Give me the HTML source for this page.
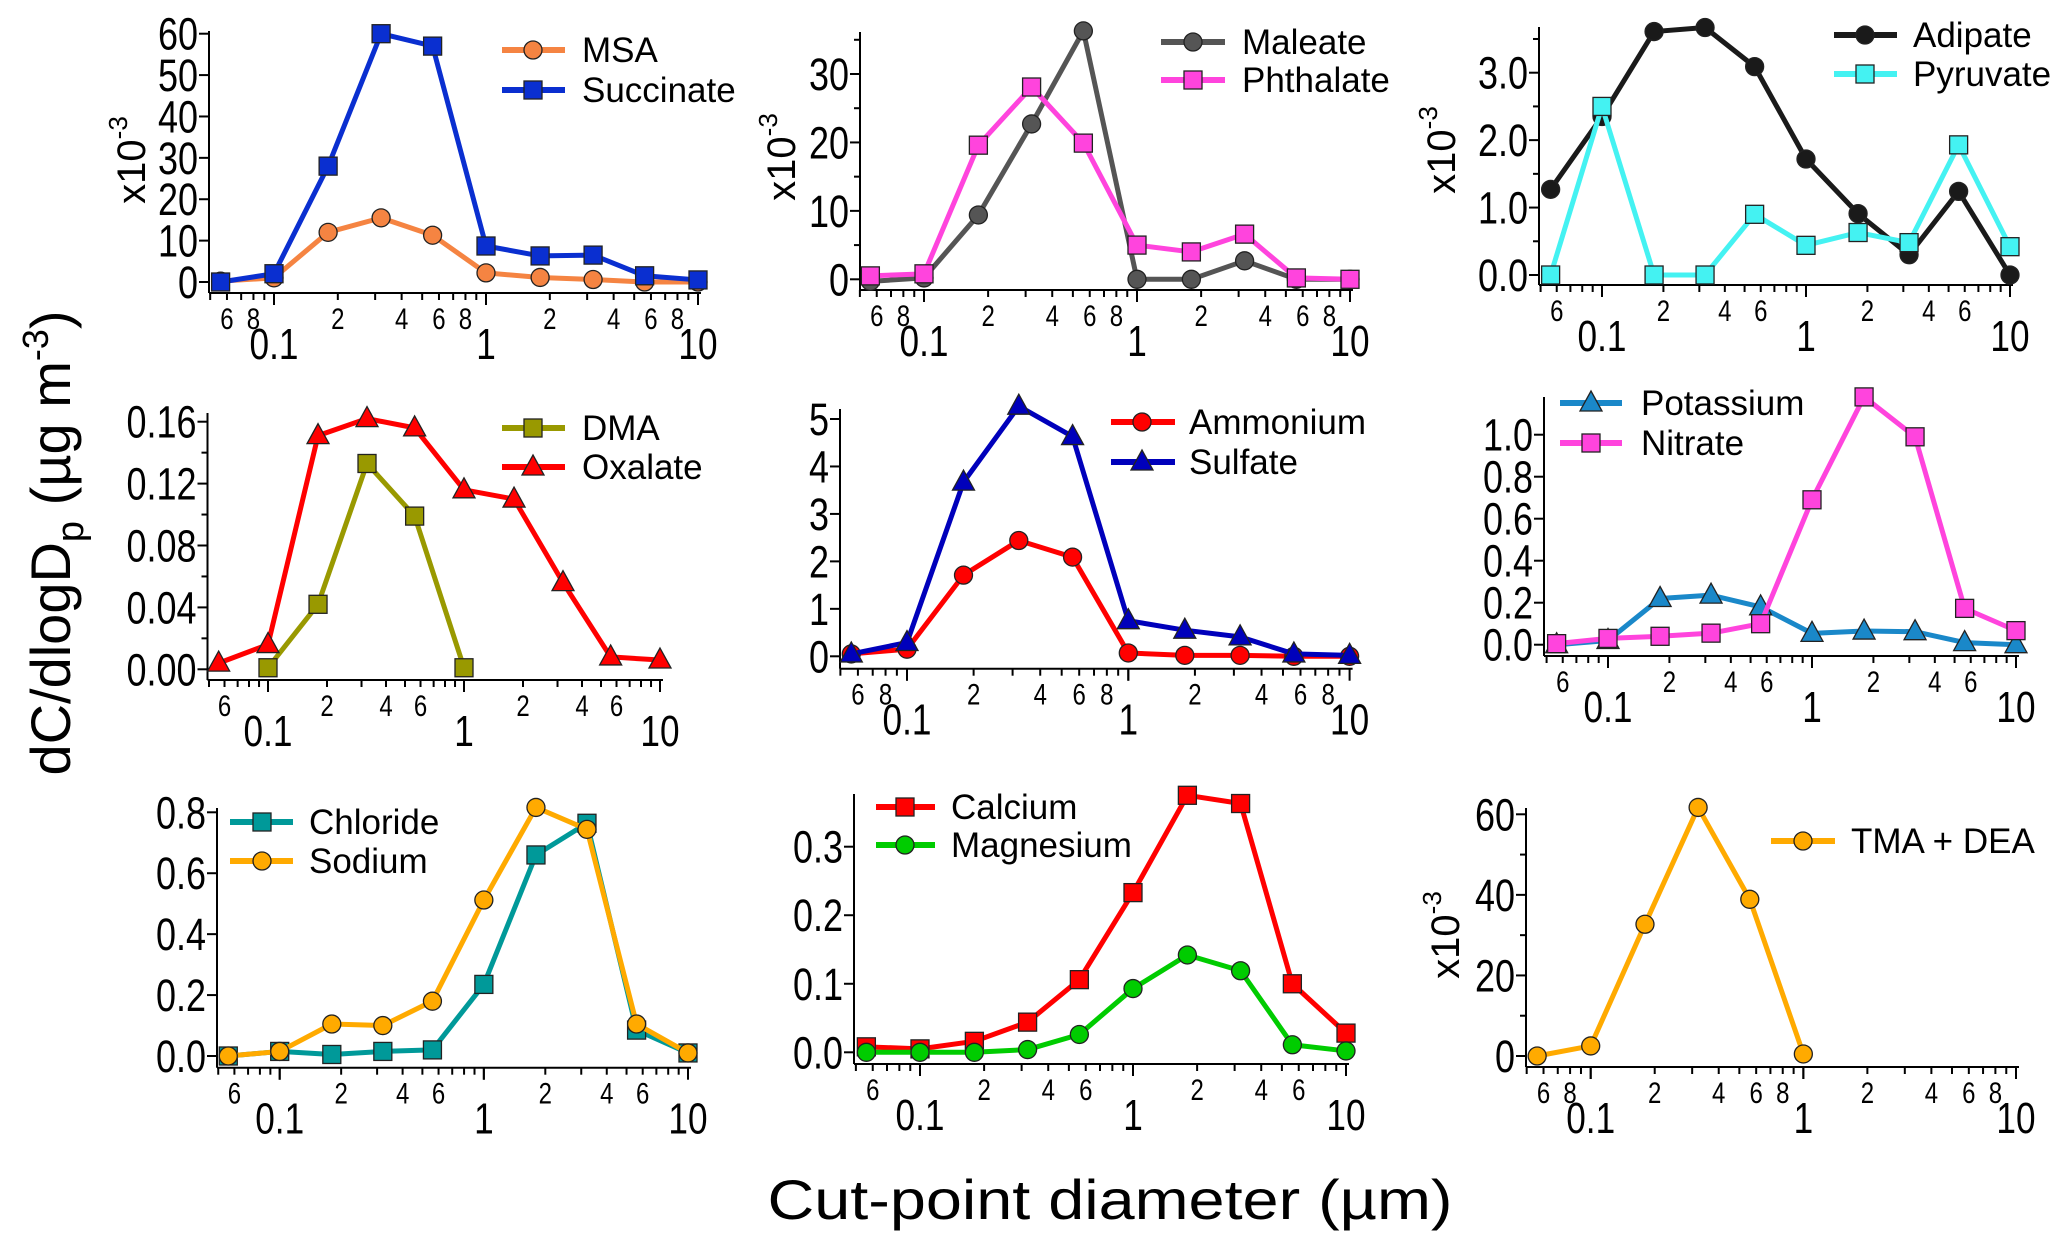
<!DOCTYPE html>
<html><head><meta charset="utf-8"><style>
html,body{margin:0;padding:0;background:#fff}
svg{display:block;font-family:"Liberation Sans",Arial,sans-serif}
</style></head><body>
<svg id="fig" width="2067" height="1244" viewBox="0 0 2067 1244" xmlns="http://www.w3.org/2000/svg">
<text x="1110" y="1219" font-size="56" text-anchor="middle" textLength="685" lengthAdjust="spacingAndGlyphs">Cut-point diameter (µm)</text>
<text transform="translate(70,543) rotate(-90)" font-size="56" text-anchor="middle">dC/dlogD<tspan font-size="38" dy="13">p</tspan><tspan dy="-13"> (µg m</tspan><tspan font-size="36" dy="-22">-3</tspan><tspan dy="22">)</tspan></text>
</svg>
<script>
// Shared cut-point diameters (µm)
const diameters = [0.056, 0.1, 0.18, 0.32, 0.56, 1.0, 1.8, 3.2, 5.6, 10];
// Series values (dC/dlogDp)
const msa = [0.2, 1, 12, 15.5, 11.3, 2.2, 1.1, 0.6, 0, 0];
const succinate = [0, 2, 28, 60, 57, 8.7, 6.3, 6.5, 1.5, 0.5];
const maleate = [-0.3, 0.2, 9.4, 22.7, 36.3, 0, 0, 2.7, 0, 0];
const phthalate = [0.5, 0.8, 19.6, 28.1, 19.9, 5, 4, 6.6, 0.2, 0];
const adipate = [1.27, 2.35, 3.61, 3.67, 3.09, 1.72, 0.91, 0.3, 1.24, 0];
const pyruvate = [0, 2.5, 0, 0, 0.9, 0.44, 0.63, 0.48, 1.93, 0.42];
const dma = [null, 0.001, 0.042, 0.133, 0.099, 0.001, null, null, null, null];
const oxalate = [0.004, 0.016, 0.151, 0.162, 0.156, 0.116, 0.110, 0.056, 0.008, 0.006];
const ammonium = [0.05, 0.15, 1.71, 2.44, 2.09, 0.07, 0.02, 0.02, 0, 0];
const sulfate = [0.05, 0.29, 3.67, 5.27, 4.63, 0.75, 0.55, 0.41, 0.05, 0.02];
const potassium = [0, 0.02, 0.22, 0.236, 0.18, 0.054, 0.065, 0.062, 0.01, 0];
const nitrate = [0.005, 0.03, 0.04, 0.055, 0.1, 0.69, 1.18, 0.99, 0.173, 0.067];
const chloride = [0, 0.015, 0.005, 0.015, 0.02, 0.235, 0.66, 0.764, 0.085, 0.01];
const sodium = [0, 0.015, 0.105, 0.1, 0.18, 0.512, 0.816, 0.744, 0.105, 0.01];
const calcium = [0.008, 0.005, 0.016, 0.044, 0.106, 0.233, 0.375, 0.363, 0.1, 0.028];
const magnesium = [0, 0, 0, 0.004, 0.026, 0.093, 0.142, 0.119, 0.011, 0.002];
const tmaDea = [0, 2.5, 32.7, 61.7, 38.9, 0.5, null, null, null, null];
// Y tick labels per panel
const ticks1 = ["0","10","20","30","40","50","60"];
const ticks2 = ["0","10","20","30"];
const ticks3 = ["0.0","1.0","2.0","3.0"];
const ticks4 = ["0.00","0.04","0.08","0.12","0.16"];
const ticks5 = ["0","1","2","3","4","5"];
const ticks6 = ["0.0","0.2","0.4","0.6","0.8","1.0"];
const ticks7 = ["0.0","0.2","0.4","0.6","0.8"];
const ticks8 = ["0.0","0.1","0.2","0.3"];
const ticks9 = ["0","20","40","60"];

const NS = "http://www.w3.org/2000/svg";
const svg = document.getElementById("fig");
function mk(tag, attrs, parent) {
  const e = document.createElementNS(NS, tag);
  for (const k in attrs) e.setAttribute(k, attrs[k]);
  (parent || svg).appendChild(e);
  return e;
}
function ntext(parent, x, y, size, anchor, str) {
  const t = mk("text", {transform:"translate(" + x + "," + y + ") scale(0.8,1)", "font-size":size, "text-anchor":anchor}, parent);
  t.textContent = str;
  return t;
}

const panels = [
 {id:"p1", left:209, px01:274, px10:698, ax:293, y0:282, yref:60, ypix:33.7, top:31, ticks:ticks1, step:10, minor:0, full:true, mult:true, mlx:131, mly:160,
  series:[{name:"MSA",data:msa,color:"#F58442",m:"circle"},{name:"Succinate",data:succinate,color:"#0A2FD0",m:"square"}],
  leg:{x1:502,x2:565,mx:533,tx:582,ys:[50,90]}},
 {id:"p2", left:860, px01:924, px10:1350, ax:290, y0:279.3, yref:30, ypix:74, top:32, ticks:ticks2, step:10, minor:5, minorMax:35, full:true, mult:true, mlx:781, mly:157,
  series:[{name:"Maleate",data:maleate,color:"#555555",m:"circle"},{name:"Phthalate",data:phthalate,color:"#FF44DD",m:"square"}],
  leg:{x1:1161,x2:1225,mx:1193,tx:1242,ys:[42,80]}},
 {id:"p3", left:1539, px01:1602, px10:2010, ax:285, y0:275, yref:3, ypix:72.7, top:27, ticks:ticks3, step:1, minor:0.5, minorMax:3.5, full:false, mult:true, mlx:1441, mly:150,
  series:[{name:"Adipate",data:adipate,color:"#1A1A1A",m:"circle"},{name:"Pyruvate",data:pyruvate,color:"#44F2F2",m:"square"}],
  leg:{x1:1834,x2:1897,mx:1865,tx:1913,ys:[35,74]}},
 {id:"p4", left:207.5, px01:268, px10:660, ax:680, y0:669.3, yref:0.16, ypix:421.7, top:413, ticks:ticks4, step:0.04, minor:0.02, minorMax:0.16, full:false,
  series:[{name:"DMA",data:dma,color:"#999900",m:"square"},{name:"Oxalate",data:oxalate,color:"#FF0000",m:"triangle"}],
  leg:{x1:502,x2:565,mx:533,tx:582,ys:[428,467]}},
 {id:"p5", left:840, px01:907, px10:1349.6, ax:668.7, y0:656.3, yref:5, ypix:419, top:409, ticks:ticks5, step:1, minor:0, full:true,
  series:[{name:"Ammonium",data:ammonium,color:"#FF0000",m:"circle"},{name:"Sulfate",data:sulfate,color:"#0000BB",m:"triangle"}],
  leg:{x1:1111,x2:1175,mx:1142,tx:1189,ys:[422,462]}},
 {id:"p6", left:1544, px01:1608, px10:2016, ax:656, y0:644.7, yref:1.0, ypix:434.7, top:397, ticks:ticks6, step:0.2, minor:0, full:false,
  series:[{name:"Potassium",data:potassium,color:"#1A88C9",m:"triangle"},{name:"Nitrate",data:nitrate,color:"#FF44DD",m:"square"}],
  leg:{x1:1560,x2:1622,mx:1591,tx:1641,ys:[403,443]}},
 {id:"p7", left:217, px01:279.7, px10:688, ax:1067.7, y0:1056, yref:0.8, ypix:812.3, top:808, ticks:ticks7, step:0.2, minor:0, full:false,
  series:[{name:"Chloride",data:chloride,color:"#009999",m:"square"},{name:"Sodium",data:sodium,color:"#FFAA00",m:"circle"}],
  leg:{x1:230,x2:293,mx:262,tx:309,ys:[822,861]}},
 {id:"p8", left:854, px01:920, px10:1346, ax:1064, y0:1052.3, yref:0.3, ypix:846.7, top:794, ticks:ticks8, step:0.1, minor:0, full:false,
  series:[{name:"Calcium",data:calcium,color:"#FF0000",m:"square"},{name:"Magnesium",data:magnesium,color:"#00CC00",m:"circle"}],
  leg:{x1:876,x2:935,mx:905,tx:951,ys:[807,845]}},
 {id:"p9", left:1526, px01:1590.7, px10:2016, ax:1067, y0:1056, yref:60, ypix:814.3, top:808, ticks:ticks9, step:20, minor:10, minorMax:60, full:true, mult:true, mlx:1445, mly:935,
  series:[{name:"TMA + DEA",data:tmaDea,color:"#FFAA00",m:"circle"}],
  leg:{x1:1771,x2:1835,mx:1803,tx:1851,ys:[841]}}
];

function marker(g, type, x, y, color) {
  let e;
  if (type === "circle") e = mk("circle", {cx:x, cy:y, r:9, fill:color, stroke:"#222", "stroke-width":1.3}, g);
  else if (type === "square") e = mk("rect", {x:x-9, y:y-9, width:18, height:18, fill:color, stroke:"#222", "stroke-width":1.3}, g);
  else e = mk("polygon", {points:(x)+","+(y-12)+" "+(x+11)+","+(y+8)+" "+(x-11)+","+(y+8), fill:color, stroke:"#222", "stroke-width":1.3}, g);
  return e;
}

panels.forEach(function(p) {
  const dec = (p.px10 - p.px01) / 2;
  const xs = function(v){ return p.px01 + (Math.log10(v) + 1) * dec; };
  const ys = function(v){ return p.y0 + (p.ypix - p.y0) * v / p.yref; };
  const g = mk("g", {});
  
  
  const ya = mk("line", {x1:p.left, y1:p.ax, x2:p.left, y2:p.top, stroke:"#000", "stroke-width":2}, g);
  
  
  const xa = mk("line", {x1:p.left, y1:p.ax, x2:p.px10 + 3, y2:p.ax, stroke:"#000", "stroke-width":2}, g);
  
  
  p.ticks.forEach(function(lab, i) {
    const v = i * p.step, y = ys(v);
    mk("line", {x1:p.left - 10, y1:y, x2:p.left, y2:y, stroke:"#000", "stroke-width":2}, g);
    const t = ntext(g, p.left - 11, y + 16, 45, "end", lab);
    
    
  });
  if (p.minor) {
    for (let v = p.minor; v <= p.minorMax + 1e-9; v += p.step) {
      mk("line", {x1:p.left - 6, y1:ys(v), x2:p.left, y2:ys(v), stroke:"#000", "stroke-width":2}, g);
    }
  }
  const xmin = Math.pow(10, -1.31);
  [-2, -1, 0].forEach(function(d) {
    for (let k = 1; k <= 9; k++) {
      const v = k * Math.pow(10, d);
      if (v < xmin - 1e-9 || v > 10) continue;
      const x = xs(v), major = (k === 1);
      mk("line", {x1:x, y1:p.ax, x2:x, y2:p.ax + (major ? 12 : 7), stroke:"#000", "stroke-width":2}, g);
      const showMinor = p.full ? (k === 2 || k === 4 || k === 6 || k === 8) : (k === 2 || k === 4 || k === 6);
      if (!major && showMinor && !(d === -2 && k < 6)) {
        if (!p.full && d === -2 && k !== 6) continue;
        const t = ntext(g, x, p.ax + 36, 30, "middle", String(k));
        
        
      }
    }
  });
  [[0.1,"0.1"],[1,"1"],[10,"10"]].forEach(function(m) {
    const x = xs(m[0]);
    mk("line", {x1:x, y1:p.ax, x2:x, y2:p.ax + 12, stroke:"#000", "stroke-width":2}, g);
    const t = ntext(g, x, p.ax + 66, 44, "middle", m[1]);
    
    
  });
  if (p.mult) {
    const t = mk("text", {transform:"translate(" + (p.mlx + 14) + "," + p.mly + ") rotate(-90)", "font-size":40, "text-anchor":"middle"}, g);
    t.innerHTML = 'x10<tspan font-size="26" dy="-18">-3</tspan>';
    
    
  }
  p.series.forEach(function(s) {
    const sg = mk("g", {}, g);
    
    
    const pts = [];
    s.data.forEach(function(v, i) { if (v !== null) pts.push([xs(diameters[i]), ys(v)]); });
    const ln = mk("polyline", {points:pts.map(function(q){return q[0]+","+q[1];}).join(" "), fill:"none", stroke:s.color, "stroke-width":5, "stroke-linejoin":"round"}, sg);
    
    
    pts.forEach(function(q) {
      const m = marker(sg, s.m, q[0], q[1], s.color);
      
      
    });
  });
  p.series.forEach(function(s, i) {
    const y = p.leg.ys[i];
    const lg = mk("g", {}, g);
    
    
    mk("line", {x1:p.leg.x1, y1:y, x2:p.leg.x2, y2:y, stroke:s.color, "stroke-width":6}, lg);
    marker(lg, s.m, p.leg.mx, y, s.color);
    const t = mk("text", {x:p.leg.tx, y:y + 12, "font-size":35}, lg);
    t.textContent = s.name;
  });
});
</script>
</body></html>
